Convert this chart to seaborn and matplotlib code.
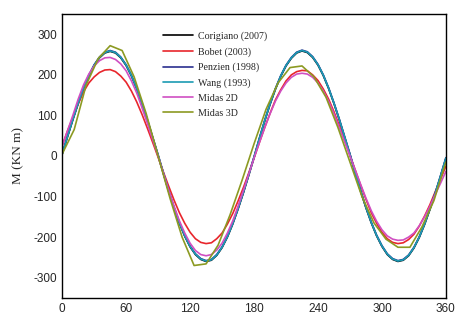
import matplotlib
matplotlib.use("Agg")
from matplotlib import pyplot as plt
from matplotlib.ticker import MultipleLocator
import pandas as pd
import seaborn as sns

# angle in degrees (every 5), moment in KN m
angle = list(range(0, 361, 5))
wang = [5, 48, 90, 130, 167, 198, 224, 243, 255, 259, 255, 243, 224, 198, 166, 129, 88, 45, 2,
        -43, -87, -128, -165, -197, -223, -242, -254, -259, -256, -244, -225, -199, -167, -130, -90, -47, -3,
        43, 87, 128, 165, 197, 223, 242, 255, 260, 256, 244, 225, 199, 167, 130, 90, 47, 4,
        -42, -86, -127, -164, -196, -222, -242, -254, -259, -256, -245, -226, -200, -168, -131, -92, -49, -5]
corigiano = [4, 47, 89, 129, 166, 197, 223, 242, 254, 258, 254, 242, 223, 197, 165, 128, 87, 44, 1,
             -44, -88, -129, -166, -198, -224, -243, -255, -260, -257, -245, -226, -200, -168, -131, -91, -48, -4,
             42, 86, 127, 164, 196, 222, 241, 254, 259, 255, 243, 224, 198, 166, 129, 89, 46, 3,
             -43, -87, -128, -165, -197, -223, -243, -255, -260, -257, -246, -227, -201, -169, -132, -93, -50, -6]
penzien = [6, 49, 91, 131, 168, 199, 225, 244, 256, 260, 256, 244, 225, 199, 167, 130, 89, 46, 3,
           -42, -86, -127, -164, -196, -222, -241, -253, -258, -255, -243, -224, -198, -166, -129, -89, -46, -2,
           44, 88, 129, 166, 198, 224, 243, 256, 261, 257, 245, 226, 200, 168, 131, 91, 48, 5,
           -41, -85, -126, -163, -195, -221, -241, -253, -258, -255, -244, -225, -199, -167, -130, -91, -48, -4]
bobet = [25, 62, 95, 128, 158, 180, 195, 206, 212, 213, 208, 197, 182, 160, 133, 102, 68, 33, -3,
         -40, -75, -109, -140, -166, -188, -204, -213, -216, -214, -204, -190, -168, -142, -111, -78, -42, -5,
         33, 70, 105, 138, 163, 185, 200, 208, 211, 210, 200, 186, 165, 140, 109, 75, 39, 2,
         -35, -72, -107, -140, -166, -188, -204, -213, -216, -214, -206, -193, -173, -148, -120, -88, -57, -25]
midas2d = [25, 62, 100, 140, 175, 202, 222, 235, 242, 243, 238, 227, 210, 185, 155, 118, 80, 40, 0,
           -43, -85, -124, -160, -190, -215, -233, -243, -246, -243, -232, -215, -190, -160, -124, -85, -45, -5,
           33, 70, 104, 135, 160, 180, 194, 202, 204, 202, 194, 180, 160, 135, 104, 70, 35, 0,
           -35, -70, -104, -135, -161, -182, -197, -205, -208, -207, -200, -190, -172, -150, -124, -95, -67, -38]

# Midas 3D was sampled more coarsely
angle_3d = [0, 11.25, 22.5, 33.75, 45, 56.25, 67.5, 78.75, 90, 101.25, 112.5, 123.75, 135, 146.25, 157.5,
            168.75, 180, 191.25, 202.5, 213.75, 225, 236.25, 247.5, 258.75, 270, 281.25, 292.5, 303.75,
            315, 326.25, 337.5, 348.75, 360]
midas3d = [5, 65, 175, 240, 272, 260, 195, 105, 0, -105, -200, -270, -266, -220, -145, -60, 30, 115, 180,
           218, 222, 195, 145, 70, -15, -100, -165, -205, -225, -225, -175, -110, -15]

names = ["Corigiano (2007)", "Bobet (2003)", "Penzien (1998)", "Wang (1993)", "Midas 2D", "Midas 3D"]
colors = ["black", "#e8262c", "#2a2f8f", "#1b9bb3", "#d04fc2", "#8c9a22"]

frames = []
for name, vals in zip(names[:5], [corigiano, bobet, penzien, wang, midas2d]):
    frames.append(pd.DataFrame({"angle": angle, "M": vals, "model": name}))
frames.append(pd.DataFrame({"angle": angle_3d, "M": midas3d, "model": names[5]}))
df = pd.concat(frames, ignore_index=True)

sns.set_style("white")
plt.rcParams["axes.unicode_minus"] = False

fig = plt.figure(figsize=(4.64, 3.19), dpi=100)
ax = fig.add_axes([0.134, 0.066, 0.827, 0.89])

sns.lineplot(data=df, x="angle", y="M", hue="model", hue_order=names,
             palette=dict(zip(names, colors)), estimator=None, sort=False,
             linewidth=1.2, ax=ax)

ax.set_xlim(0, 360)
ax.set_ylim(-350, 350)
ax.xaxis.set_major_locator(MultipleLocator(60))
ax.xaxis.set_minor_locator(MultipleLocator(30))
ax.yaxis.set_major_locator(MultipleLocator(100))
ax.yaxis.set_minor_locator(MultipleLocator(50))
ax.tick_params(which="both", direction="in", top=False, right=False,
               labelsize=8.5, length=3, width=0.8, pad=3.5)
ax.tick_params(which="minor", length=2)
for lab in ax.get_xticklabels() + ax.get_yticklabels():
    lab.set_fontfamily("Liberation Sans")

for s in ax.spines.values():
    s.set_linewidth(1.0)
    s.set_color("black")

ax.set_xlabel("")
ax.set_ylabel("M (KN m)", fontfamily="Liberation Serif", fontsize=9.5, labelpad=7)

ax.legend(loc="upper left", bbox_to_anchor=(0.24, 0.97), frameon=False,
          prop={"family": "Liberation Serif", "size": 7.2},
          handlelength=3.0, handletextpad=0.5, labelspacing=0.6)

fig.savefig("out.png", dpi=100)
